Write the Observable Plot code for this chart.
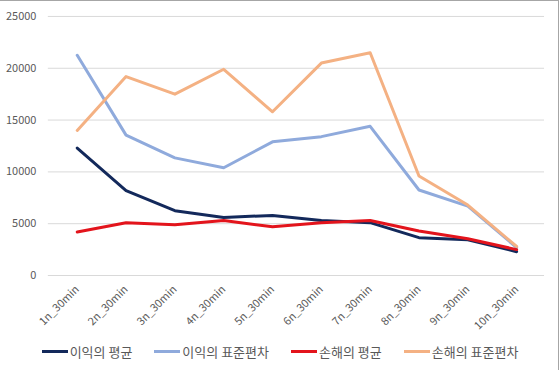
<!DOCTYPE html>
<html><head><meta charset="utf-8">
<script src="https://cdn.jsdelivr.net/npm/d3@7"></script>
<script src="https://cdn.jsdelivr.net/npm/@observablehq/plot@0.6"></script>
<style>
html,body{margin:0;padding:0;background:#fff;}
#wrap{position:relative;width:558px;height:369px;border:1px solid #a6a6a6;border-bottom:none;border-left:none;overflow:hidden;font-family:"Noto Sans CJK KR","Noto Sans",sans-serif;}
#legend{position:absolute;left:0;top:341px;width:560px;display:flex;justify-content:center;gap:22px;font-size:13px;color:#595959;}
.item{display:flex;align-items:center;}
.sw{width:26px;height:3px;margin-right:2px;}
</style></head>
<body><div id="wrap"><div id="chart"></div><div id="legend"></div></div>
<script>
const categories = ["1n_30min","2n_30min","3n_30min","4n_30min","5n_30min","6n_30min","7n_30min","8n_30min","9n_30min","10n_30min"];
const seriesNames = ["이익의 평균","이익의 표준편차","손해의 평균","손해의 표준편차"];
const profitMean = [12300,8200,6250,5600,5800,5300,5100,3650,3450,2300];
const profitStd = [21250,13550,11350,10400,12900,13400,14400,8250,6700,2700];
const lossMean = [4200,5100,4900,5300,4700,5100,5300,4300,3550,2500];
const lossStd = [14000,19200,17500,19900,15800,20500,21500,9600,6800,2800];
const yTicks = [0,5000,10000,15000,20000,25000];
const colors = ["#13295b","#8faadc","#e3141c","#f4b183"];

const seriesValues = [profitMean, profitStd, lossMean, lossStd];
const data = [];
seriesNames.forEach((s,i)=>categories.forEach((c,j)=>data.push({series:s, cat:c, value:seriesValues[i][j]})));
const order = [1,3,0,2];
const drawData = [];
order.forEach(i=>data.filter(d=>d.series===seriesNames[i]).forEach(d=>drawData.push(d)));

const plot = Plot.plot({
  width:560, height:334,
  marginLeft:48, marginRight:14, marginTop:15, marginBottom:59,
  style:{fontFamily:"'Noto Sans CJK KR','Noto Sans',sans-serif", fontSize:"11px", color:"#595959"},
  x:{type:"point", domain:categories, padding:0.5, label:null},
  y:{domain:[0,25000], label:null},
  color:{domain:seriesNames, range:colors},
  marks:[
    Plot.ruleY(yTicks,{stroke:"#d9d9d9", strokeWidth:1}),
    Plot.line(drawData,{x:"cat", y:"value", z:"series", stroke:"series", strokeWidth:3, strokeLinejoin:"round", strokeLinecap:"round"}),
    Plot.axisX({tickRotate:-45, tickSize:0, tickPadding:12, fontSize:11, fill:"#595959"}),
    Plot.axisY({ticks:yTicks, tickSize:0, tickPadding:12, fontSize:11, fill:"#595959", tickFormat:d=>String(d)})
  ]
});
document.getElementById("chart").appendChild(plot);
const lg = document.getElementById("legend");
seriesNames.forEach((s,i)=>{
  const it=document.createElement("div"); it.className="item";
  const sw=document.createElement("div"); sw.className="sw"; sw.style.background=colors[i];
  const t=document.createElement("span"); t.textContent=s;
  it.appendChild(sw); it.appendChild(t); lg.appendChild(it);
});
</script></body></html>
